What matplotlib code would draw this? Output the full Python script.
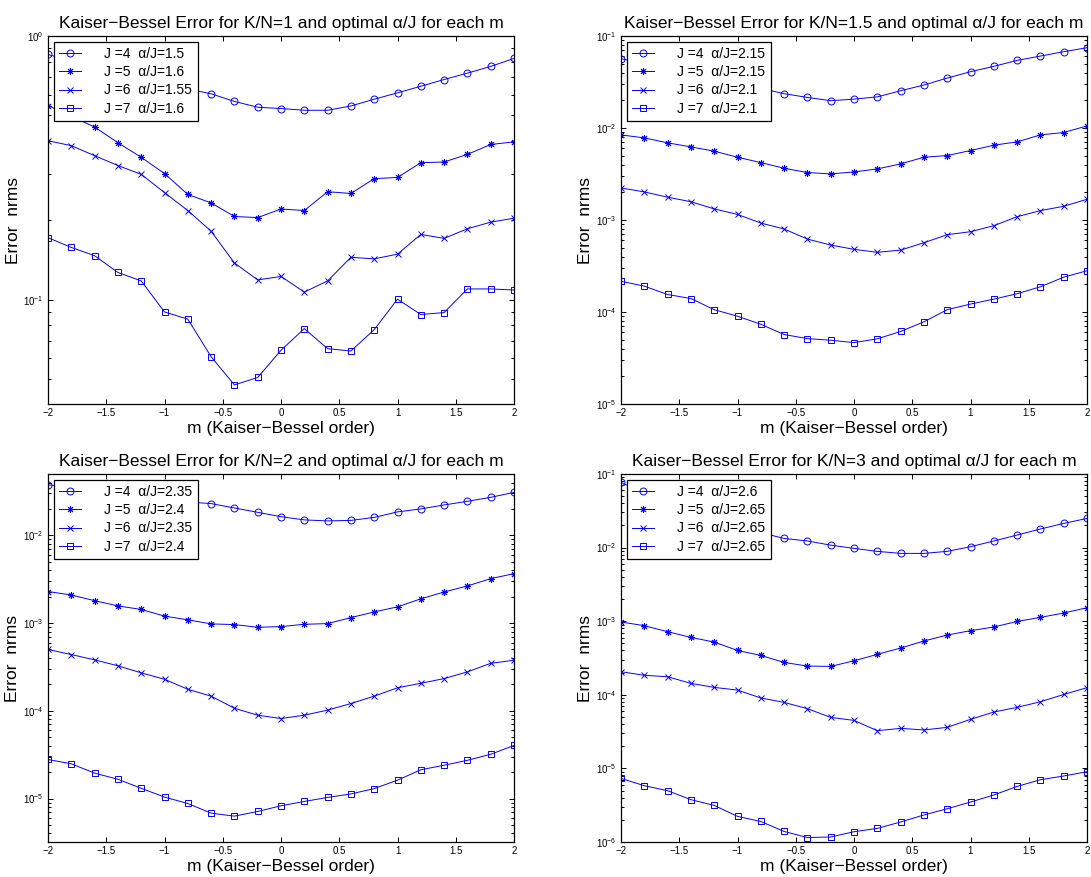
import matplotlib
matplotlib.use('Agg')
import matplotlib.pyplot as plt
from matplotlib.ticker import LogLocator, NullFormatter, FuncFormatter, MultipleLocator

plt.rcParams['font.family'] = ['Liberation Sans', 'DejaVu Sans']
plt.rcParams['axes.unicode_minus'] = True

# Kaiser-Bessel order m
m_order = [-2.0, -1.8, -1.6, -1.4, -1.2, -1.0, -0.8, -0.6, -0.4, -0.2, 0.0,
           0.2, 0.4, 0.6, 0.8, 1.0, 1.2, 1.4, 1.6, 1.8, 2.0]

J_values = [4, 5, 6, 7]
oversampling = ['1', '1.5', '2', '3']

# optimal alpha/J for each J, per K/N
alpha_kn1 = ['1.5', '1.6', '1.55', '1.6']
alpha_kn15 = ['2.15', '2.15', '2.1', '2.1']
alpha_kn2 = ['2.35', '2.4', '2.35', '2.4']
alpha_kn3 = ['2.6', '2.65', '2.65', '2.65']

# K/N = 1
err_kn1_j4 = [0.852, 0.80, 0.76, 0.72, 0.69, 0.66, 0.63, 0.604, 0.565, 0.537, 0.531,
              0.523, 0.523, 0.543, 0.576, 0.609, 0.645, 0.684, 0.723, 0.767, 0.822]
err_kn1_j5 = [0.545, 0.496, 0.452, 0.394, 0.347, 0.301, 0.251, 0.233, 0.207, 0.205, 0.221,
              0.218, 0.257, 0.253, 0.288, 0.291, 0.331, 0.333, 0.356, 0.388, 0.397]
err_kn1_j6 = [0.401, 0.384, 0.352, 0.323, 0.299, 0.255, 0.218, 0.182, 0.138, 0.119, 0.1227,
              0.107, 0.118, 0.145, 0.143, 0.149, 0.177, 0.171, 0.186, 0.197, 0.204]
err_kn1_j7 = [0.172, 0.158, 0.147, 0.127, 0.118, 0.090, 0.0845, 0.0609, 0.0476, 0.0508, 0.0644,
              0.0778, 0.0653, 0.0640, 0.0771, 0.1006, 0.0880, 0.0895, 0.110, 0.110, 0.109]

# K/N = 1.5
err_kn15_j4 = [0.0567, 0.050, 0.044, 0.039, 0.035, 0.031, 0.027, 0.0236, 0.0215, 0.0198, 0.0206,
               0.0218, 0.0254, 0.0293, 0.0349, 0.0409, 0.0468, 0.0543, 0.0605, 0.0675, 0.0746]
err_kn15_j5 = [0.00841, 0.00781, 0.00690, 0.00623, 0.00560, 0.00481, 0.00421, 0.00365, 0.00328,
               0.00317, 0.00333, 0.00359, 0.00407, 0.00481, 0.00502, 0.00569, 0.00650, 0.00707,
               0.00841, 0.00893, 0.01054]
err_kn15_j6 = [0.00223, 0.00202, 0.00177, 0.00158, 0.00132, 0.00115, 0.000927, 0.000798, 0.000621,
               0.000534, 0.000480, 0.000445, 0.000471, 0.000566, 0.000692, 0.000746, 0.000867,
               0.001086, 0.001264, 0.00141, 0.00168]
err_kn15_j7 = [2.16e-4, 1.91e-4, 1.55e-4, 1.40e-4, 1.06e-4, 9.00e-5, 7.36e-5, 5.69e-5, 5.14e-5,
               4.93e-5, 4.65e-5, 5.11e-5, 6.14e-5, 7.82e-5, 1.06e-4, 1.22e-4, 1.38e-4, 1.58e-4,
               1.88e-4, 2.39e-4, 2.81e-4]

# K/N = 2
err_kn2_j4 = [0.0378, 0.034, 0.031, 0.029, 0.027, 0.025, 0.024, 0.0230, 0.0205, 0.0183, 0.0163,
              0.0150, 0.0146, 0.0148, 0.0160, 0.0185, 0.0200, 0.0222, 0.0244, 0.0271, 0.0309]
err_kn2_j5 = [0.00229, 0.00209, 0.00180, 0.00157, 0.00143, 0.00120, 0.00109, 0.000979, 0.000961,
              0.000896, 0.000912, 0.000969, 0.000986, 0.001155, 0.00134, 0.00153, 0.00189,
              0.00226, 0.00265, 0.00321, 0.00366]
err_kn2_j6 = [5.00e-4, 4.38e-4, 3.81e-4, 3.26e-4, 2.71e-4, 2.29e-4, 1.76e-4, 1.47e-4, 1.07e-4,
              8.91e-5, 8.17e-5, 8.91e-5, 1.02e-4, 1.21e-4, 1.47e-4, 1.83e-4, 2.06e-4, 2.33e-4,
              2.78e-4, 3.48e-4, 3.77e-4]
err_kn2_j7 = [2.79e-5, 2.49e-5, 1.95e-5, 1.66e-5, 1.31e-5, 1.04e-5, 8.79e-6, 6.82e-6, 6.31e-6,
              7.13e-6, 8.28e-6, 9.27e-6, 1.03e-5, 1.13e-5, 1.30e-5, 1.62e-5, 2.13e-5, 2.40e-5,
              2.73e-5, 3.20e-5, 4.03e-5]

# K/N = 3
err_kn3_j4 = [0.0769, 0.055, 0.040, 0.030, 0.023, 0.019, 0.016, 0.0133, 0.0123, 0.0108, 0.00976,
              0.00889, 0.00834, 0.00834, 0.00889, 0.01028, 0.0123, 0.0148, 0.0179, 0.0213, 0.0249]
err_kn3_j5 = [9.75e-4, 8.69e-4, 7.20e-4, 6.02e-4, 5.21e-4, 4.00e-4, 3.43e-4, 2.75e-4, 2.46e-4,
              2.43e-4, 2.90e-4, 3.54e-4, 4.32e-4, 5.38e-4, 6.49e-4, 7.43e-4, 8.34e-4, 9.93e-4,
              1.127e-3, 1.291e-3, 1.524e-3]
err_kn3_j6 = [2.06e-4, 1.84e-4, 1.76e-4, 1.43e-4, 1.26e-4, 1.16e-4, 9.05e-5, 7.89e-5, 6.48e-5,
              4.93e-5, 4.49e-5, 3.25e-5, 3.50e-5, 3.33e-5, 3.61e-5, 4.64e-5, 5.83e-5, 6.75e-5,
              8.05e-5, 1.01e-4, 1.25e-4]
err_kn3_j7 = [7.31e-6, 5.82e-6, 4.98e-6, 3.76e-6, 3.14e-6, 2.23e-6, 1.90e-6, 1.39e-6, 1.15e-6,
              1.17e-6, 1.38e-6, 1.53e-6, 1.87e-6, 2.33e-6, 2.83e-6, 3.49e-6, 4.35e-6, 5.69e-6,
              7.02e-6, 7.88e-6, 9.02e-6]

panels = [
    (oversampling[0], alpha_kn1, [err_kn1_j4, err_kn1_j5, err_kn1_j6, err_kn1_j7], (0.0403, 1.0)),
    (oversampling[1], alpha_kn15, [err_kn15_j4, err_kn15_j5, err_kn15_j6, err_kn15_j7], (1e-5, 1e-1)),
    (oversampling[2], alpha_kn2, [err_kn2_j4, err_kn2_j5, err_kn2_j6, err_kn2_j7], (3.2e-6, 0.05)),
    (oversampling[3], alpha_kn3, [err_kn3_j4, err_kn3_j5, err_kn3_j6, err_kn3_j7], (1e-6, 1e-1)),
]

# axes boxes in pixels: left, top of each panel (width/height shared)
W, H = 1091, 877
ax_w, ax_h = 466, 368
boxes = [(48, 36), (621, 36), (48, 474), (621, 474)]

markers = [
    dict(marker='o', markersize=5, markerfacecolor='none'),
    dict(marker=(8, 2, 0), markersize=5),
    dict(marker='x', markersize=4),
    dict(marker='s', markersize=4.5, markerfacecolor='none'),
]

fig = plt.figure(figsize=(W / 100, H / 100), dpi=100)
fig.patch.set_facecolor('white')

xfmt = FuncFormatter(lambda v, _: ('%g' % v).replace('-', '\u2212'))

for (kn, alphas, series, ylim), (left, top) in zip(panels, boxes):
    ax = fig.add_axes([left / W, 1 - (top + ax_h) / H, ax_w / W, ax_h / H])
    for J, a, err, mk in zip(J_values, alphas, series, markers):
        ax.semilogy(m_order, err, color='b', linewidth=0.7, markeredgewidth=0.7,
                    label='J =%d  \u03b1/J=%s' % (J, a), **mk)
    ax.set_xlim(-2, 2)
    ax.set_ylim(*ylim)
    ax.xaxis.set_major_locator(MultipleLocator(0.5))
    ax.xaxis.set_major_formatter(xfmt)
    ax.yaxis.set_major_locator(LogLocator(base=10, numticks=12))
    ax.yaxis.set_minor_locator(LogLocator(base=10, subs=range(2, 10), numticks=12))
    ax.yaxis.set_minor_formatter(NullFormatter())
    ax.tick_params(which='both', direction='in', top=True, right=True,
                   labelsize=7, pad=3, width=0.7)
    ax.tick_params(which='major', length=3.5)
    ax.tick_params(which='minor', length=2.2)
    for sp in ax.spines.values():
        sp.set_linewidth(0.9)
    ax.set_title('Kaiser\u2212Bessel Error for K/N=%s and optimal \u03b1/J for each m' % kn,
                 fontsize=12.5, pad=6)
    ax.set_xlabel('m (Kaiser\u2212Bessel order)', fontsize=12.5, labelpad=2)
    ax.set_ylabel('Error  nrms', fontsize=12.5, labelpad=2)
    leg = ax.legend(loc='upper left', fontsize=10, fancybox=False, framealpha=1,
                    edgecolor='black', handlelength=1.6, handletextpad=1.65,
                    labelspacing=0.3, borderpad=0.4, borderaxespad=0.4)
    leg.get_frame().set_linewidth(0.9)

fig.savefig('out.png', dpi=100, facecolor='white')
